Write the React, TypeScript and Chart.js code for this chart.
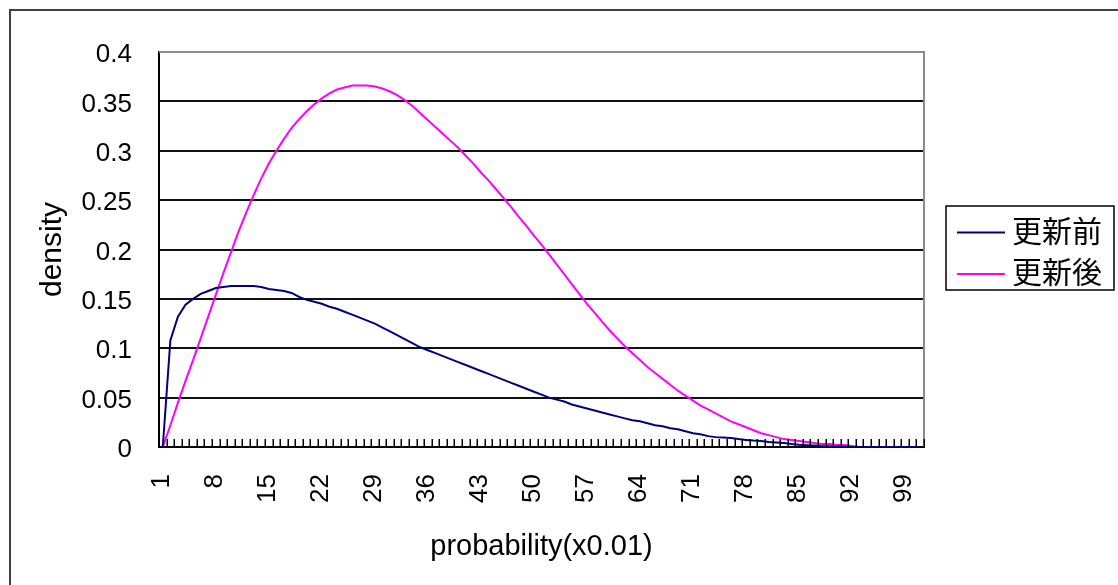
import React, { useEffect, useRef } from 'react';
import { Chart, registerables } from 'chart.js';

Chart.register(...registerables);

const categories = [
  '1', '2', '3', '4', '5', '6', '7', '8', '9', '10',
  '11', '12', '13', '14', '15', '16', '17', '18', '19', '20',
  '21', '22', '23', '24', '25', '26', '27', '28', '29', '30',
  '31', '32', '33', '34', '35', '36', '37', '38', '39', '40',
  '41', '42', '43', '44', '45', '46', '47', '48', '49', '50',
  '51', '52', '53', '54', '55', '56', '57', '58', '59', '60',
  '61', '62', '63', '64', '65', '66', '67', '68', '69', '70',
  '71', '72', '73', '74', '75', '76', '77', '78', '79', '80',
  '81', '82', '83', '84', '85', '86', '87', '88', '89', '90',
  '91', '92', '93', '94', '95', '96', '97', '98', '99', '100',
  '101',
];

const xTickLabels = ['1', '8', '15', '22', '29', '36', '43', '50', '57', '64', '71', '78', '85', '92', '99'];

const seriesNames = ['更新前', '更新後'];
const seriesColors = ['#000080', '#FF00FF'];

// 更新前
const densityBefore = [
  0, 0.108, 0.132, 0.144, 0.150, 0.155, 0.158, 0.161, 0.162, 0.163,
  0.163, 0.163, 0.163, 0.162, 0.160, 0.159, 0.158, 0.156, 0.152, 0.149,
  0.147, 0.145, 0.142, 0.140, 0.137, 0.134, 0.131, 0.128, 0.125, 0.121,
  0.117, 0.113, 0.109, 0.105, 0.101, 0.098, 0.095, 0.092, 0.089, 0.086,
  0.083, 0.080, 0.077, 0.074, 0.071, 0.068, 0.065, 0.062, 0.059, 0.056,
  0.053, 0.050, 0.048, 0.046, 0.043, 0.041, 0.039, 0.037, 0.035, 0.033,
  0.031, 0.029, 0.027, 0.026, 0.024, 0.022, 0.021, 0.019, 0.018, 0.016,
  0.014, 0.013, 0.011, 0.010, 0.0095, 0.009, 0.008, 0.0072, 0.0065, 0.006,
  0.005, 0.0045, 0.004, 0.003, 0.0022, 0.0018, 0.0014, 0.001, 0.0007, 0.0004,
  0.0002, 0, 0, 0, 0, 0, 0, 0, 0, 0,
  0,
];

// 更新後
const densityAfter = [
  0, 0.022, 0.045, 0.067, 0.088, 0.110, 0.132, 0.154, 0.176, 0.197,
  0.218, 0.237, 0.255, 0.272, 0.287, 0.300, 0.312, 0.323, 0.332, 0.340,
  0.347, 0.353, 0.358, 0.362, 0.364, 0.366, 0.366, 0.366, 0.365, 0.363,
  0.360, 0.356, 0.351, 0.345, 0.338, 0.331, 0.324, 0.317, 0.310, 0.303,
  0.295, 0.287, 0.278, 0.270, 0.261, 0.252, 0.243, 0.233, 0.224, 0.214,
  0.205, 0.195, 0.185, 0.175, 0.165, 0.155, 0.145, 0.136, 0.127, 0.118,
  0.110, 0.102, 0.095, 0.088, 0.081, 0.075, 0.069, 0.063, 0.057, 0.052,
  0.047, 0.042, 0.038, 0.034, 0.030, 0.026, 0.023, 0.020, 0.017, 0.014,
  0.012, 0.010, 0.008, 0.007, 0.006, 0.005, 0.004, 0.003, 0.003, 0.002,
  0.002, 0.001, 0, 0, 0, 0, 0, 0, 0, 0,
  0,
];

const yMin = 0;
const yMax = 0.4;
const yStep = 0.05;

const xTitle = 'probability(x0.01)';
const yTitle = 'density';

const decorPlugin = {
  id: 'decor',
  beforeDraw(chart: any) {
    const { ctx, width, height } = chart;
    ctx.save();
    ctx.fillStyle = '#ffffff';
    ctx.fillRect(0, 0, width, height);
    // outer chart frame (extends beyond the visible picture)
    ctx.strokeStyle = '#404040';
    ctx.lineWidth = 2;
    ctx.beginPath();
    ctx.moveTo(10, height + 5);
    ctx.lineTo(10, 10);
    ctx.lineTo(width + 5, 10);
    ctx.stroke();
    ctx.restore();
  },
  afterDatasetsDraw(chart: any) {
    const { ctx, chartArea } = chart;
    const { left, right, top, bottom } = chartArea;
    const xs = chart.scales.x;
    ctx.save();
    // top / right plot border (gray)
    ctx.strokeStyle = '#8c8c8c';
    ctx.lineWidth = 2;
    ctx.beginPath();
    ctx.moveTo(left, top);
    ctx.lineTo(right, top);
    ctx.lineTo(right, bottom);
    ctx.stroke();
    // inside tick marks at category boundaries
    ctx.strokeStyle = '#000';
    ctx.lineWidth = 1.5;
    const n = chart.data.labels.length;
    const step = n > 1 ? xs.getPixelForValue(1) - xs.getPixelForValue(0) : 0;
    ctx.beginPath();
    for (let i = 0; i <= n; i++) {
      const px = Math.round(xs.getPixelForValue(0) - step / 2 + i * step) + 0.25;
      ctx.moveTo(px, bottom);
      ctx.lineTo(px, bottom - 8);
    }
    ctx.stroke();
    ctx.restore();
  },
  afterDraw(chart: any) {
    const { ctx } = chart;
    ctx.save();
    // legend box
    const bx = 946, by = 206, bw = 168, bh = 84;
    ctx.strokeStyle = '#000';
    ctx.lineWidth = 1.5;
    ctx.strokeRect(bx, by, bw, bh);
    const rows = [232.5, 274];
    chart.data.datasets.forEach((ds: any, i: number) => {
      const y = rows[i];
      ctx.strokeStyle = ds.borderColor;
      ctx.lineWidth = 2;
      ctx.beginPath();
      ctx.moveTo(957, y);
      ctx.lineTo(1005, y);
      ctx.stroke();
      ctx.fillStyle = '#000';
      ctx.font = '30px "Noto Sans CJK JP"';
      ctx.textAlign = 'left';
      ctx.textBaseline = 'middle';
      ctx.fillText(ds.label, 1012, y - 2);
    });
    ctx.restore();
  },
};

export default function App() {
  const canvasRef = useRef<HTMLCanvasElement | null>(null);

  useEffect(() => {
    if (!canvasRef.current) return;
    const chart = new Chart(canvasRef.current, {
      type: 'line',
      data: {
        labels: categories,
        datasets: [
          {
            label: seriesNames[0],
            data: densityBefore,
            borderColor: seriesColors[0],
            backgroundColor: seriesColors[0],
            borderWidth: 2,
            pointRadius: 0,
            tension: 0,
            fill: false,
          },
          {
            label: seriesNames[1],
            data: densityAfter,
            borderColor: seriesColors[1],
            backgroundColor: seriesColors[1],
            borderWidth: 2,
            pointRadius: 0,
            tension: 0,
            fill: false,
          },
        ],
      },
      options: {
        animation: false,
        responsive: false,
        devicePixelRatio: 1,
        layout: { padding: { top: 52, right: 194, bottom: 0, left: 0 } },
        plugins: {
          legend: { display: false },
          tooltip: { enabled: false },
          title: { display: false },
        },
        scales: {
          x: {
            type: 'category',
            offset: true,
            grid: { display: false, drawTicks: false, tickLength: 0 },
            border: { display: true, color: '#000', width: 2 },
            ticks: {
              autoSkip: false,
              maxRotation: 90,
              minRotation: 90,
              padding: 27,
              labelOffset: -1,
              color: '#000',
              font: { family: '"Liberation Sans", Arial, sans-serif', size: 26 },
              callback: (_v: any, i: number) =>
                xTickLabels.includes(categories[i]) ? categories[i] : '',
            },
            title: {
              display: true,
              text: xTitle,
              color: '#000',
              font: { family: '"Liberation Sans", Arial, sans-serif', size: 29 },
              padding: { top: 0, bottom: 21 },
            },
            afterFit: (s: any) => {
              s.height = 138;
            },
          },
          y: {
            min: yMin,
            max: yMax,
            grid: {
              color: (c: any) =>
                c.tick && c.tick.value > yMax - 1e-9 ? 'rgba(0,0,0,0)' : '#111',
              lineWidth: 2,
              drawTicks: false,
              tickLength: 0,
            },
            border: { display: true, color: '#000', width: 2 },
            ticks: {
              stepSize: yStep,
              padding: 27,
              labelOffset: 3,
              color: '#000',
              font: { family: '"Liberation Sans", Arial, sans-serif', size: 26 },
              callback: (v: any) => String(Math.round(Number(v) * 100) / 100),
            },
            title: {
              display: true,
              text: yTitle,
              color: '#000',
              font: { family: '"Liberation Sans", Arial, sans-serif', size: 30 },
              padding: { top: 35, bottom: 0 },
            },
            afterFit: (s: any) => {
              s.width = 159;
            },
          },
        },
      } as any,
      plugins: [decorPlugin],
    });
    return () => chart.destroy();
  }, []);

  return (
    <div
      style={{
        position: 'fixed',
        left: 0,
        top: 0,
        width: 1118,
        height: 585,
        overflow: 'hidden',
        background: '#fff',
      }}
    >
      <canvas ref={canvasRef} width={1118} height={585} style={{ width: 1118, height: 585, display: 'block' }} />
    </div>
  );
}
